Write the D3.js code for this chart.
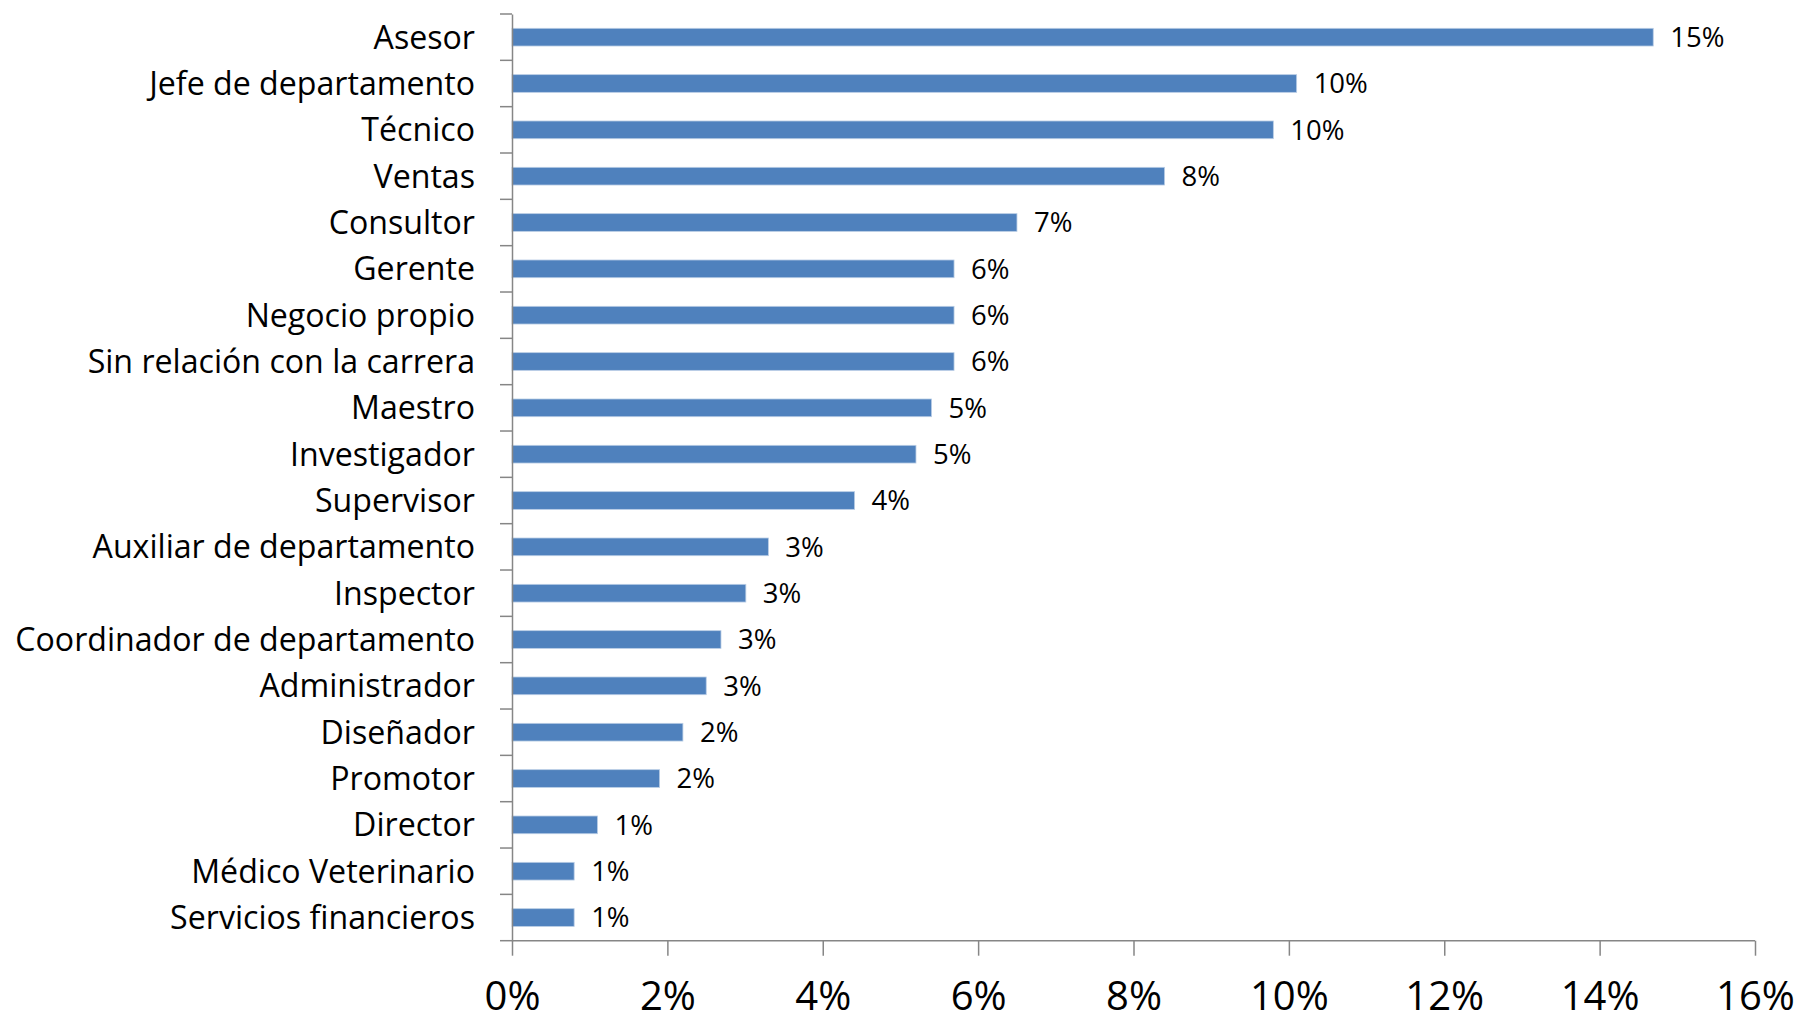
<!DOCTYPE html>
<html>
<head>
<meta charset="utf-8">
<script src="https://cdn.jsdelivr.net/npm/d3@7"></script>
<style>
  html, body { margin: 0; padding: 0; background: #fff; }
  svg { display: block; }
  text { font-family: "Open Sans", Lato, sans-serif; fill: #000; }
</style>
</head>
<body>
<svg id="chart" width="1802" height="1023"></svg>
<script>
const categories = [
  "Asesor", "Jefe de departamento", "Técnico", "Ventas", "Consultor",
  "Gerente", "Negocio propio", "Sin relación con la carrera", "Maestro",
  "Investigador", "Supervisor", "Auxiliar de departamento", "Inspector",
  "Coordinador de departamento", "Administrador", "Diseñador", "Promotor",
  "Director", "Médico Veterinario", "Servicios financieros"
];
const values = [
  14.69, 10.10, 9.80, 8.40, 6.50,
  5.69, 5.69, 5.69, 5.40,
  5.20, 4.41, 3.30, 3.01,
  2.69, 2.50, 2.20, 1.90,
  1.10, 0.80, 0.80
];
const valueLabels = [
  "15%", "10%", "10%", "8%", "7%",
  "6%", "6%", "6%", "5%",
  "5%", "4%", "3%", "3%",
  "3%", "3%", "2%", "2%",
  "1%", "1%", "1%"
];
const xTicks = [0, 2, 4, 6, 8, 10, 12, 14, 16];

const svg = d3.select("#chart");
const plotLeft = 512, plotRight = 1755, plotTop = 14, plotBottom = 940.7;

const x = d3.scaleLinear().domain([0, 16]).range([plotLeft, plotRight]);
const y = d3.scaleBand().domain(categories).range([plotTop, plotBottom]).padding(0);
const barH = y.bandwidth() * 0.382;
const axisColor = "#868686";

// bars
svg.append("g").selectAll("rect")
  .data(categories)
  .join("rect")
  .attr("x", x(0))
  .attr("y", d => y(d) + (y.bandwidth() - barH) / 2)
  .attr("width", (d, i) => x(values[i]) - x(0))
  .attr("height", barH)
  .attr("fill", "#4F81BD")
  .attr("stroke", "#B9CDE5")
  .attr("stroke-width", 0.8);

// value labels
svg.append("g").selectAll("text")
  .data(categories)
  .join("text")
  .attr("x", (d, i) => x(values[i]) + 17)
  .attr("y", d => y(d) + y.bandwidth() / 2)
  .attr("dy", "0.36em")
  .style("font-size", "27.5px")
  .text((d, i) => valueLabels[i]);

// y axis
const yAxis = d3.axisLeft(y).tickSize(0).tickPadding(37);
const gy = svg.append("g").attr("transform", `translate(${plotLeft},0)`).call(yAxis);
gy.select(".domain").attr("stroke", axisColor).attr("stroke-width", 1.5);
const yLabels = gy.selectAll("text").style("font-size", "30px").attr("fill", "#000").attr("dy", "0.36em");
// fit longest label to the reference width
let maxW = 0;
yLabels.each(function () { maxW = Math.max(maxW, this.getComputedTextLength()); });
if (maxW > 0) yLabels.style("font-size", (30 * 460 / maxW) + "px");

// y tick marks at band boundaries
const boundaries = categories.map(c => y(c)).concat([plotBottom]);
svg.append("g").selectAll("line")
  .data(boundaries)
  .join("line")
  .attr("x1", plotLeft - 12).attr("x2", plotLeft)
  .attr("y1", d => d).attr("y2", d => d)
  .attr("stroke", axisColor).attr("stroke-width", 1.5);

// x axis
const xAxis = d3.axisBottom(x).tickValues(xTicks).tickSize(15).tickPadding(26)
  .tickFormat(d => d + "%");
const gx = svg.append("g").attr("transform", `translate(0,${plotBottom})`).call(xAxis);
gx.select(".domain").attr("stroke", axisColor).attr("stroke-width", 1.5).attr("d", `M${plotLeft},0H${plotRight}`);
gx.selectAll(".tick line").attr("stroke", axisColor).attr("stroke-width", 1.5);
gx.selectAll("text").style("font-size", "40px").attr("fill", "#000");
</script>
</body>
</html>
